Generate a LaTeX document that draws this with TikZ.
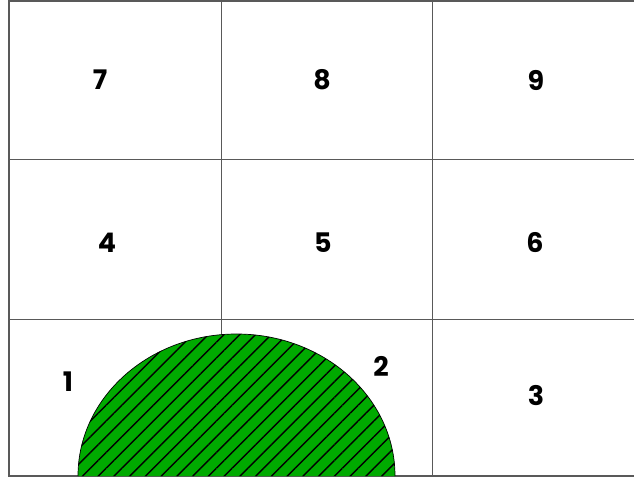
\documentclass[tikz,border=0pt]{standalone}
\usepackage{fontspec}
\setmainfont{Poppins}
\usetikzlibrary{calc,patterns.meta}
\definecolor{fieldgreen}{RGB}{0,170,0}

\begin{document}
\begin{tikzpicture}[x=0.03cm,y=-0.03cm,
    num/.style={font=\fontsize{23}{27}\selectfont\bfseries},
    gridline/.style={draw=black!65,line width=0.6pt}]
    \useasboundingbox (0,0) rectangle (634,480);

    % corners of the board
    \coordinate (TL) at (9,1);
    \coordinate (TR) at (634,1);
    \coordinate (BL) at (9,476);
    \coordinate (BR) at (634,476);

    % frame and grid
    \draw[gridline,line width=1.2pt] (TR) -- (TL) -- (BL) -- (BR);
    \draw[gridline] (221,1) -- (221,476);
    \draw[gridline] (432,1) -- (432,476);
    \draw[gridline] (9,159) -- (634,159);
    \draw[gridline] (9,319) -- (634,319);

    % hatched half ellipse
    \coordinate (E) at (236.5,476);
    \fill[fieldgreen] ($(E)+(-158.5,0)$) arc[start angle=180,end angle=0,x radius=158.5,y radius=-142] -- cycle;
    \fill[pattern={Lines[angle=45,distance=9.5pt,line width=1.2pt]},pattern color=black]
        ($(E)+(-158.5,0)$) arc[start angle=180,end angle=0,x radius=158.5,y radius=-142] -- cycle;
    \draw[black,line width=0.6pt] ($(E)+(-158.5,0)$) arc[start angle=180,end angle=0,x radius=158.5,y radius=-142];

    % numbers
    \node[num] (n7) at (100,80) {7};
    \node[num] (n8) at (322,80) {8};
    \node[num] (n9) at (536,80) {9};
    \node[num] (n4) at (107,243) {4};
    \node[num] (n5) at (323,243) {5};
    \node[num] (n6) at (535,243) {6};
    \node[num] (n1) at (68,382) {1};
    \node[num] (n2) at (381,366) {2};
    \node[num] (n3) at (536,396) {3};
\end{tikzpicture}
\end{document}
